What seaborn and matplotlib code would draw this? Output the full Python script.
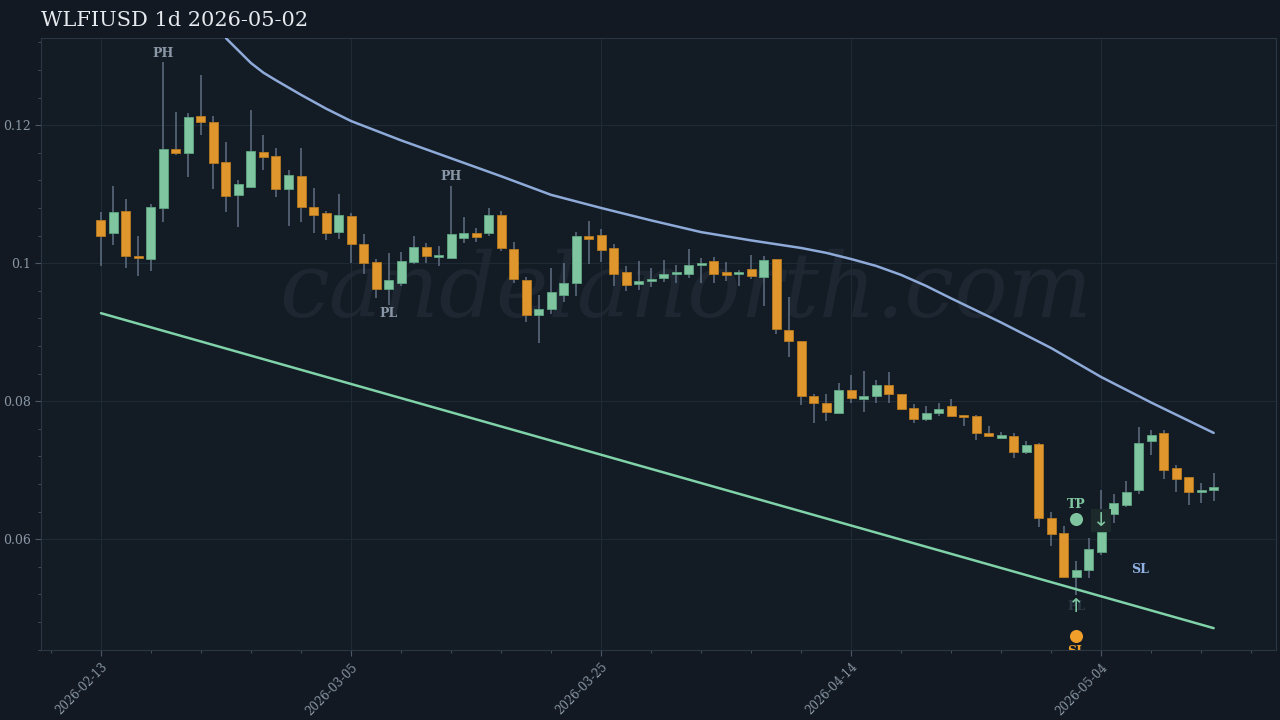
import numpy as np
import pandas as pd
import matplotlib
matplotlib.use("Agg")
import matplotlib.pyplot as plt
import seaborn as sns
from matplotlib.ticker import FixedLocator, MultipleLocator

# ---- data (prices in thousandths) ----
start_date = "2026-02-13"
opens = [106.2,104.4,107.5,101.0,100.6,108.0,116.5,116.0,121.3,120.4,
         114.6,109.9,111.0,116.1,115.5,110.7,112.6,108.1,107.3,104.5,
         106.8,102.8,100.1,96.2,97.1,100.1,102.3,100.9,100.7,103.6,
         104.4,104.4,107.0,102.0,97.5,92.5,93.3,95.4,97.1,103.9,
         104.1,102.2,98.7,97.0,97.4,97.8,98.4,98.5,99.7,100.3,
         98.7,98.4,99.1,98.0,100.6,90.3,88.7,80.7,79.8,78.3,
         81.6,80.3,80.7,82.3,81.0,79.0,77.4,78.3,79.3,78.0,
         77.8,75.4,74.6,74.9,72.6,73.8,63.0,60.9,54.5,55.5,
         58.1,63.6,64.9,67.1,74.2,75.4,70.3,69.0,66.8,67.1]
highs = [107.4,111.2,109.3,103.9,108.6,129.1,121.9,121.8,127.3,121.3,
         117.5,112.0,122.2,118.6,116.7,113.5,116.7,110.9,107.5,110.0,
         107.3,104.2,100.6,101.5,101.6,103.9,102.9,102.5,111.2,106.7,
         105.1,108.0,107.5,103.0,98.0,95.4,99.3,100.0,104.5,106.1,
         104.9,102.8,99.6,100.3,99.3,100.4,99.7,102.0,100.7,100.9,
         100.1,99.0,101.2,101.0,100.6,95.1,88.7,81.1,81.0,82.6,
         83.8,84.3,83.0,84.2,81.1,79.6,79.3,79.8,80.3,78.0,
         78.0,76.4,75.5,75.4,74.2,74.0,64.0,61.9,56.8,60.1,
         67.1,66.5,68.4,76.2,75.8,75.8,70.7,69.0,68.1,69.6]
lows = [99.6,102.6,99.3,98.1,98.8,105.9,115.7,112.5,118.6,110.7,
        107.4,105.2,111.0,113.5,109.6,105.4,105.9,104.4,103.3,103.5,
        100.0,98.4,94.9,93.9,96.7,99.9,100.0,99.6,100.7,102.9,
        103.0,103.9,101.7,97.1,91.4,88.5,92.6,94.3,95.2,99.9,
        100.1,96.7,95.9,96.1,96.5,97.2,97.1,97.8,97.1,97.1,
        97.4,96.7,97.7,93.8,89.8,86.4,79.4,76.8,77.1,78.3,
        79.8,78.5,79.8,79.8,78.7,76.8,77.1,77.8,77.8,76.4,
        74.3,74.8,74.5,71.7,72.4,61.7,59.0,54.3,51.9,54.3,
        57.7,62.4,64.6,66.5,72.2,68.7,66.9,64.9,65.2,65.5]
closes = [103.9,107.4,101.0,100.7,108.1,116.5,116.0,121.2,120.4,114.5,
          109.7,111.5,116.2,115.4,110.7,112.8,108.1,107.0,104.4,107.0,
          102.8,100.0,96.2,97.5,100.3,102.3,101.0,101.2,104.2,104.4,
          103.8,107.0,102.2,97.7,92.5,93.3,95.8,97.1,103.9,103.5,
          101.9,98.4,96.8,97.4,97.7,98.5,98.7,99.7,100.0,98.4,
          98.3,98.5,98.1,100.4,90.4,88.7,80.7,79.7,78.5,81.6,
          80.4,80.7,82.3,81.0,78.8,77.4,78.3,78.8,77.8,77.7,
          75.4,74.9,75.1,72.7,73.6,63.0,60.7,54.5,55.6,58.5,
          61.0,65.2,66.9,74.0,75.1,70.0,68.7,66.8,67.1,67.5]
upper_idx = [10,11,12,13,14,16,18,20,24,28,32,36,40,44,48,52,56,58,60,62,64,66,68,72,76,80,84,89]
upper_val = [132.6,130.8,129.0,127.6,126.5,124.4,122.4,120.6,117.8,115.2,112.6,109.9,108.0,106.2,
             104.5,103.3,102.2,101.5,100.6,99.6,98.3,96.7,94.9,91.4,87.7,83.5,79.8,75.4]
trend_idx = [0, 89]
trend_val = [92.75, 47.10]
pivot_labels = [(5, "PH", "high"), (28, "PH", "high"), (23, "PL", "low")]
tp_idx, tp_val = 78, 62.9
sl_idx, sl_val = 78, 45.9
arrow_up_idx, arrow_up_val = 78, 50.3
arrow_dn_idx, arrow_dn_val = 80, 62.7
sl_text_idx, sl_text_val = 83.1, 55.6
tick_idx = [0, 20, 40, 60, 80]

scale = 1e-3
o = np.array(opens) * scale; h = np.array(highs) * scale
l = np.array(lows) * scale; c = np.array(closes) * scale
n = len(o)
idx = np.arange(n)
dates = pd.date_range(start_date, periods=n, freq="D")

BG = "#121922"
AX = "#131b25"
GREEN = "#7fc6a0"
ORANGE = "#df962c"
WICK = "#5f6f82"
TXT = "#8a97a6"

sns.set_style("dark")
plt.rcParams["font.family"] = ["DejaVu Serif"]
fig = plt.figure(figsize=(12.8, 7.2), dpi=100, facecolor=BG)
ax = fig.add_axes([0.032, 0.097, 0.965, 0.850])
ax.set_facecolor(AX)

# watermark
ax.text(0.522, 0.585, "candelanorth.com", transform=ax.transAxes, ha="center", va="center",
        fontsize=64, style="italic", color="#1e2731", zorder=0)

ax.grid(True, color="#1e2a35", lw=0.8, zorder=0)

up = c >= o
ax.vlines(idx, l, h, color=WICK, lw=1.1, zorder=2)
bottoms = np.minimum(o, c)
heights = np.maximum(np.abs(c - o), 0.00025)
ax.bar(idx[up], heights[up], bottom=bottoms[up], width=0.72, color=GREEN,
       edgecolor="#5fa583", lw=0.6, zorder=3)
ax.bar(idx[~up], heights[~up], bottom=bottoms[~up], width=0.72, color=ORANGE,
       edgecolor="#b87a20", lw=0.6, zorder=3)

sns.lineplot(x=upper_idx, y=np.array(upper_val) * scale, ax=ax, color="#8eaad8", lw=1.8, zorder=4)
sns.lineplot(x=trend_idx, y=np.array(trend_val) * scale, ax=ax, color="#80d2a8", lw=1.8, zorder=4)

for i, lab, kind in pivot_labels:
    if kind == "high":
        ax.annotate(lab, (i, h[i]), xytext=(0, 2), textcoords="offset points", ha="center",
                    va="bottom", color=TXT, fontsize=9, fontweight="bold")
    else:
        ax.annotate(lab, (i, l[i]), xytext=(0, -1), textcoords="offset points", ha="center",
                    va="top", color=TXT, fontsize=9, fontweight="bold")

ax.scatter([tp_idx], [tp_val * scale], s=70, color=GREEN, zorder=5)
ax.annotate("TP", (tp_idx, tp_val * scale), xytext=(0, 6), textcoords="offset points",
            ha="center", va="bottom", color=GREEN, fontsize=9, fontweight="bold")
ax.scatter([sl_idx], [sl_val * scale], s=70, color="#f0a02a", zorder=5)
ax.annotate("SL", (sl_idx, sl_val * scale), xytext=(0, -6), textcoords="offset points",
            ha="center", va="top", color="#f0a02a", fontsize=9, fontweight="bold", clip_on=True)
ax.text(arrow_up_idx, arrow_up_val * scale, "PL", ha="center", va="center", color="#2c3846",
        fontsize=9, fontweight="bold", zorder=5)
ax.text(arrow_up_idx, arrow_up_val * scale, "↑", ha="center", va="center", color=GREEN,
        fontsize=14, zorder=6, family=["DejaVu Sans"])
ax.text(arrow_dn_idx, arrow_dn_val * scale, "↓", ha="center", va="center", color=GREEN,
        fontsize=14, zorder=6, family=["DejaVu Sans"],
        bbox=dict(boxstyle="square,pad=0.1", fc="#1c2a2c", ec="none"))
ax.text(sl_text_idx, sl_text_val * scale, "SL", ha="center", va="center", color="#8fb0e0",
        fontsize=9, fontweight="bold")

ax.set_xlim(-4.8, 94)
ax.set_ylim(0.04391, 0.13261)
ax.xaxis.set_major_locator(FixedLocator(tick_idx))
ax.set_xticklabels([dates[i].strftime("%Y-%m-%d") for i in tick_idx], rotation=45,
                   ha="right", rotation_mode="anchor")
ax.xaxis.set_minor_locator(MultipleLocator(4))
ax.set_yticks([0.06, 0.08, 0.10, 0.12])
ax.set_yticklabels(["0.06", "0.08", "0.1", "0.12"])
ax.yaxis.set_minor_locator(MultipleLocator(0.004))
ax.tick_params(axis="both", which="both", colors="#4a5868", labelcolor=TXT, labelsize=9,
               bottom=True, left=True, direction="out")
ax.tick_params(axis="x", which="major", labelsize=8.5)
ax.tick_params(which="major", length=4)
ax.tick_params(which="minor", length=2)
for s in ax.spines.values():
    s.set_color("#2a3644"); s.set_linewidth(0.8)
ax.set_xlabel(""); ax.set_ylabel("")
fig.text(0.032, 0.971, "WLFIUSD 1d 2026-05-02", ha="left", va="center", color="#e6e9ee", fontsize=15)

fig.savefig("out.png", dpi=100, facecolor=BG)
